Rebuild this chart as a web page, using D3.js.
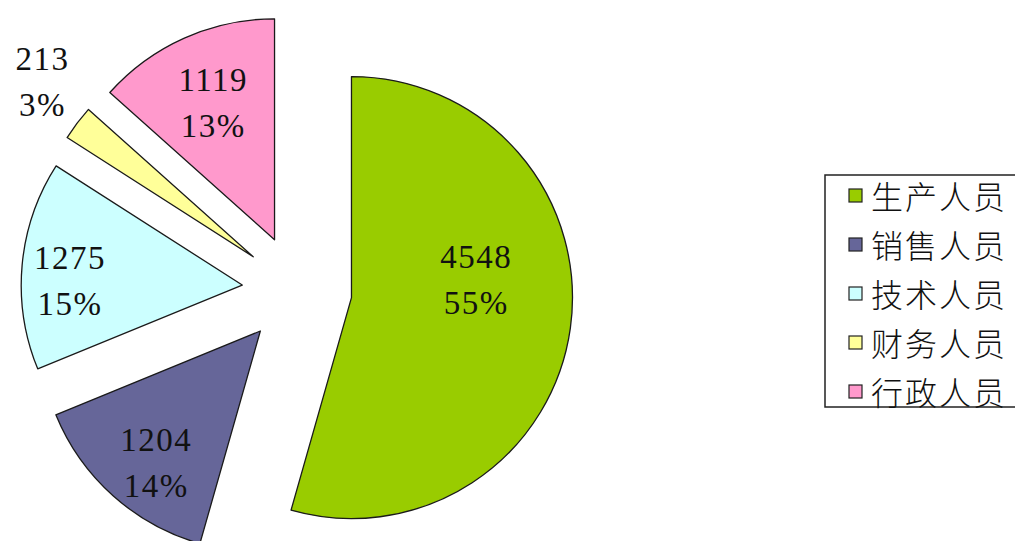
<!DOCTYPE html>
<html>
<head>
<meta charset="utf-8">
<script src="https://cdn.jsdelivr.net/npm/d3@7"></script>
<style>
  body { margin: 0; background: #fff; }
  svg { display: block; }
</style>
</head>
<body>
<svg id="chart"></svg>
<script>
// data
const categories = ["生产人员", "销售人员", "技术人员", "财务人员", "行政人员"];
const values = [4548, 1204, 1275, 213, 1119];
const percentLabels = ["55%", "14%", "15%", "3%", "13%"];
const colors = ["#99CC00", "#666699", "#CCFFFF", "#FFFF99", "#FF99CC"];

const width = 1015;
const height = 541;
const radius = 221;
const explode = 55;
const center = { x: 297, y: 290 };

// where the labels sit: fraction of radius, and a turn away from the mid angle (deg)
const labelRadius = [0.57, 0.76, 0.78, 1.24, 0.68];
const labelTurn = [-16, -3.5, -4, 2.5, 0];

const svg = d3.select("#chart")
  .attr("width", width)
  .attr("height", height);

const pie = d3.pie().sort(null).value((d) => d.value);
const arc = d3.arc().innerRadius(0).outerRadius(radius);

const data = categories.map((c, i) => ({
  name: c,
  value: values[i],
  pct: percentLabels[i],
  color: colors[i],
  index: i,
}));

const arcs = pie(data);

const slices = svg.append("g")
  .selectAll("g")
  .data(arcs)
  .join("g")
  .attr("transform", (d) => {
    const mid = (d.startAngle + d.endAngle) / 2;
    const x = center.x + explode * Math.sin(mid);
    const y = center.y - explode * Math.cos(mid);
    return `translate(${x}, ${y})`;
  });

slices.append("path")
  .attr("d", arc)
  .attr("fill", (d) => d.data.color)
  .attr("stroke", "#1a1a1a")
  .attr("stroke-width", 1.3)
  .attr("stroke-linejoin", "round");

const labels = slices.append("text")
  .attr("transform", (d) => {
    const i = d.data.index;
    const mid = (d.startAngle + d.endAngle) / 2 + (labelTurn[i] * Math.PI) / 180;
    const rr = radius * labelRadius[i];
    return `translate(${rr * Math.sin(mid)}, ${-rr * Math.cos(mid)})`;
  })
  .style("font-family", "'Liberation Serif', 'DejaVu Serif', serif")
  .style("font-size", "33px")
  .style("letter-spacing", "1.5px")
  .attr("fill", "#111")
  .attr("text-anchor", "middle");

labels.append("tspan")
  .attr("x", 0)
  .attr("y", -23)
  .attr("dominant-baseline", "central")
  .text((d) => d.data.value);

labels.append("tspan")
  .attr("x", 0)
  .attr("y", 23)
  .attr("dominant-baseline", "central")
  .text((d) => d.data.pct);

// legend
const legend = svg.append("g").attr("transform", "translate(825, 175)");

legend.append("rect")
  .attr("x", 0)
  .attr("y", 0)
  .attr("width", 220)
  .attr("height", 232)
  .attr("fill", "#fff")
  .attr("stroke", "#222")
  .attr("stroke-width", 1.5);

const rowY = d3.scalePoint()
  .domain(categories)
  .range([20, 216]);

const items = legend.selectAll("g.item")
  .data(data)
  .join("g")
  .attr("class", "item")
  .attr("transform", (d) => `translate(0, ${rowY(d.name)})`);

items.append("rect")
  .attr("x", 24)
  .attr("y", -6)
  .attr("width", 13)
  .attr("height", 13)
  .attr("fill", (d) => d.color)
  .attr("stroke", "#222")
  .attr("stroke-width", 1.2);

items.append("text")
  .attr("x", 46)
  .attr("y", 0)
  .attr("dominant-baseline", "central")
  .style("font-family", "'Noto Sans CJK SC', sans-serif")
  .style("font-size", "32px")
  .style("font-weight", 300)
  .style("letter-spacing", "2px")
  .attr("fill", "#111")
  .text((d) => d.name);
</script>
</body>
</html>
